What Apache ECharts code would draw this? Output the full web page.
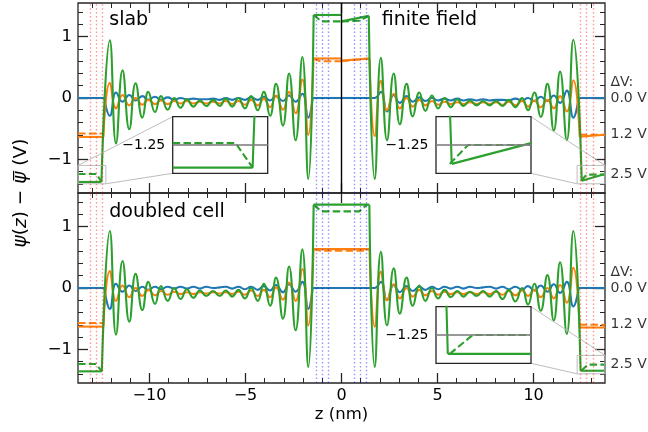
<!DOCTYPE html>
<html>
<head>
<meta charset="utf-8">
<script src="https://cdn.jsdelivr.net/npm/echarts@6/dist/echarts.min.js"></script>
<style>
  html, body { margin: 0; padding: 0; background: #fff; }
  #chart { width: 648px; height: 432px; }
</style>
</head>
<body>
<div id="chart"></div>
<script>
// Electrostatic potential profiles across the electrode / electrolyte cell
const FONT = 'DejaVu Sans';
const Z_MIN = -13.72, Z_MAX = 13.72;
const V_MIN = -1.55, V_MAX = 1.55;

const xMajor = [-10, -5, 0, 5, 10];
const xMinor = [-13, -12, -11, -9, -8, -7, -6, -4, -3, -2, -1, 1, 2, 3, 4, 6, 7, 8, 9, 11, 12, 13];
const yMajor = [-1, 0, 1];
const yMinor = [-1.4, -1.2, -0.8, -0.6, -0.4, -0.2, 0.2, 0.4, 0.6, 0.8, 1.2, 1.4];

const biasLabels = ['0.0 V', '1.2 V', '2.5 V'];
const colors = ['#1f77b4', '#ff7f0e', '#2ca02c'];

// atomic planes of the electrodes
const outerPlanes = [-13.1, -12.77, -12.45, 12.44, 12.76, 13.1];
const innerPlanes = [-1.32, -0.99, -0.67, 0.65, 0.98, 1.3];

// zoomed windows
const insetV = [-1.4, -1.1];
const insetZLeft = [-13.72, -12.27];
const insetZRight = [12.27, 13.72];
const insetMark = -1.25;

// positions of the oscillation extrema in the electrolyte
const zLeft = [-12.06, -11.74, -11.40, -11.05, -10.72, -10.37, -10.06, -9.71, -9.40, -9.05, -8.71, -8.38,
  -8.05, -7.71, -7.37, -7.04, -6.69, -6.34, -6.03, -5.69, -5.37, -5.03, -4.71, -4.36, -4.05, -3.72,
  -3.41, -3.05, -2.73, -2.39, -2.04, -1.73];
const zRight = [1.73, 2.05, 2.37, 2.72, 3.04, 3.39, 3.71, 4.05, 4.37, 4.71, 5.03, 5.37, 5.69, 6.03,
  6.35, 6.69, 7.04, 7.37, 7.71, 8.05, 8.38, 8.71, 9.05, 9.40, 9.71, 10.04, 10.37, 10.72, 11.05, 11.38,
  11.73, 12.07];

// slab (upper panel, z < 0)
const slabBlue = [-0.29, 0.09, -0.06, 0.05, -0.04, 0.03, -0.03, 0.02, -0.03, 0.01, -0.03, 0.00, -0.02,
  -0.01, -0.02, -0.02, -0.01, -0.03, 0.00, -0.03, 0.00, -0.03, 0.01, -0.03, 0.02, -0.04, 0.03, -0.05,
  0.04, -0.06, 0.07, -0.32];
const slabOrange = [0.25, -0.17, 0.05, -0.12, 0.00, -0.11, -0.03, -0.10, -0.04, -0.10, -0.05, -0.09,
  -0.05, -0.09, -0.06, -0.09, -0.06, -0.09, -0.05, -0.10, -0.05, -0.11, -0.03, -0.12, -0.01, -0.15,
  0.04, -0.19, 0.10, -0.25, 0.30, -0.60];
const slabGreen = [0.94, -0.74, 0.45, -0.51, 0.24, -0.32, 0.10, -0.23, 0.03, -0.19, 0.00, -0.16, -0.02,
  -0.14, -0.04, -0.13, -0.03, -0.13, -0.01, -0.14, 0.00, -0.17, 0.03, -0.20, 0.10, -0.29, 0.23, -0.45,
  0.40, -0.69, 0.67, -1.32];

// finite field (upper panel, z > 0)
const ffBlue = [0.00, 0.10, -0.22, 0.05, -0.08, 0.03, -0.06, 0.01, -0.05, 0.00, -0.04, -0.01, -0.04,
  -0.01, -0.04, -0.02, -0.04, -0.02, -0.04, -0.03, -0.03, -0.04, -0.01, -0.04, 0.00, -0.05, 0.02, -0.05,
  0.04, -0.08, 0.12, -0.32];
const ffOrange = [-0.62, 0.28, -0.20, 0.07, -0.17, 0.00, -0.14, -0.03, -0.12, -0.05, -0.11, -0.06,
  -0.10, -0.07, -0.10, -0.07, -0.10, -0.07, -0.10, -0.07, -0.11, -0.06, -0.12, -0.05, -0.14, -0.04,
  -0.15, -0.03, -0.17, 0.03, -0.22, 0.29];
const ffGreen = [-1.32, 0.655, -0.69, 0.40, -0.43, 0.23, -0.30, 0.09, -0.21, 0.04, -0.17, 0.00, -0.15,
  -0.02, -0.13, -0.04, -0.12, -0.05, -0.12, -0.05, -0.13, -0.03, -0.15, 0.00, -0.20, 0.09, -0.31, 0.23,
  -0.53, 0.43, -0.69, 0.95];

// doubled cell (lower panel)
const dcBlueL = [-0.34, 0.07, -0.06, 0.04, -0.05, 0.02, -0.03, 0.02, -0.02, 0.02, -0.01, 0.02, -0.01,
  0.02, -0.01, 0.02, 0.00, 0.01, 0.02, -0.01, 0.02, -0.02, 0.02, -0.03, 0.03, -0.04, 0.05, -0.07, 0.06,
  -0.06, 0.10, -0.34];
const dcOrangeL = [0.28, -0.21, 0.04, -0.15, 0.00, -0.13, -0.03, -0.12, -0.05, -0.11, -0.06, -0.10,
  -0.07, -0.10, -0.07, -0.09, -0.07, -0.09, -0.07, -0.10, -0.06, -0.11, -0.04, -0.13, -0.03, -0.15,
  0.01, -0.19, 0.09, -0.21, 0.31, -0.61];
const dcGreenL = [0.93, -0.76, 0.44, -0.55, 0.23, -0.36, 0.10, -0.26, 0.03, -0.21, 0.00, -0.18, -0.02,
  -0.16, -0.04, -0.13, -0.05, -0.13, -0.04, -0.14, -0.03, -0.17, 0.00, -0.21, 0.07, -0.29, 0.17, -0.50,
  0.35, -0.69, 0.63, -1.29];
const dcBlueR = [0.00, 0.10, -0.20, 0.05, -0.07, 0.03, -0.05, 0.02, -0.03, 0.02, -0.02, 0.02, -0.01,
  0.02, -0.01, 0.02, 0.00, 0.01, 0.02, -0.01, 0.02, -0.02, 0.02, -0.03, 0.03, -0.04, 0.04, -0.06, 0.06,
  -0.08, 0.10, -0.30];
const dcOrangeR = [-0.63, 0.27, -0.20, 0.06, -0.17, 0.00, -0.14, -0.03, -0.12, -0.05, -0.11, -0.06,
  -0.10, -0.07, -0.10, -0.07, -0.10, -0.07, -0.10, -0.06, -0.11, -0.05, -0.12, -0.04, -0.13, -0.03,
  -0.15, 0.00, -0.17, 0.05, -0.24, 0.33];
const dcGreenR = [-1.29, 0.59, -0.61, 0.32, -0.42, 0.17, -0.29, 0.04, -0.21, 0.00, -0.17, -0.03, -0.15,
  -0.05, -0.14, -0.06, -0.13, -0.05, -0.14, -0.05, -0.18, -0.03, -0.22, 0.00, -0.27, 0.07, -0.37, 0.21,
  -0.53, 0.42, -0.75, 0.93];

// plateau levels inside the electrodes, [0.0 V, 1.2 V, 2.5 V]
const slabEdge = [0, -0.635, -1.37];
const slabCenter = [0, 0.645, 1.355];
const ffCenterFrom = [0, 0.61, 1.25];
const ffCenterTo = [0, 0.645, 1.34];
const ffEdgeFrom = [0, -0.63, -1.35];
const ffEdgeTo = [0, -0.60, -1.24];
const dcEdgeLeft = [0, -0.63, -1.36];
const dcCenter = [0, 0.635, 1.36];
const dcEdgeRight = [0, -0.645, -1.35];

// where the plateaus end
const slabEdgeZ = [-12.35, -12.40, -12.50];
const centerZ = [1.50, 1.46, 1.45];
const ffCenterZ = [1.50, 1.46, 1.42];
const ffEdgeZ = [12.35, 12.40, 12.51];
const dcEdgeZL = [-12.35, -12.40, -12.48];
const dcEdgeZR = [12.35, 12.40, 12.45];

// dashed (reference) profiles, only where they leave the solid ones
const slabDashed = [
  [[[Z_MIN, 0], [-12.35, 0]], [[-1.50, 0], [0, 0]]],
  [[[Z_MIN, -0.58], [-12.40, -0.58]], [[-1.46, 0.645], [-1.10, 0.60], [0, 0.60]]],
  [[[Z_MIN, -1.24], [-12.76, -1.24], [-12.50, -1.37]], [[-1.45, 1.355], [-1.05, 1.25], [0, 1.25]]]
];
const ffDashed = [
  [[[0, 0], [1.50, 0]], [[12.35, 0], [Z_MAX, 0]]],
  [[[0, 0.60], [1.46, 0.645]], [[12.40, -0.60], [Z_MAX, -0.60]]],
  [[[0, 1.25], [0.95, 1.26], [1.42, 1.34]], [[12.48, -1.35], [12.76, -1.25], [Z_MAX, -1.25]]]
];
const dcDashed = [
  [[[Z_MIN, 0], [-12.35, 0]], [[-1.50, 0], [1.50, 0]], [[12.35, 0], [Z_MAX, 0]]],
  [[[Z_MIN, -0.57], [-12.40, -0.57]], [[-1.46, 0.635], [-1.10, 0.61], [1.10, 0.61], [1.46, 0.635]],
   [[12.40, -0.60], [Z_MAX, -0.60]]],
  [[[Z_MIN, -1.24], [-12.78, -1.24], [-12.48, -1.36]], [[-1.45, 1.36], [-1.05, 1.25], [0.92, 1.25], [1.33, 1.36]],
   [[12.48, -1.35], [12.83, -1.25], [Z_MAX, -1.25]]]
];

const slabOsc = [slabBlue, slabOrange, slabGreen];
const ffOsc = [ffBlue, ffOrange, ffGreen];
const dcOscL = [dcBlueL, dcOrangeL, dcGreenL];
const dcOscR = [dcBlueR, dcOrangeR, dcGreenR];

const zip = (zs, vs) => zs.map((z, i) => [z, vs[i]]);

function slabSolid(k) {
  const e = slabEdge[k], c = slabCenter[k], ze = slabEdgeZ[k], zc = -centerZ[k];
  return [
    { pts: [[Z_MIN, e], [ze, e]], smooth: false },
    { pts: [[ze, e]].concat(zip(zLeft, slabOsc[k]), [[zc, c]]), smooth: true },
    { pts: [[zc, c], [0, c]], smooth: false }
  ];
}
function ffSolid(k) {
  const zc = ffCenterZ[k], ze = ffEdgeZ[k];
  return [
    { pts: [[0, ffCenterFrom[k]], [zc, ffCenterTo[k]]], smooth: false },
    { pts: [[zc, ffCenterTo[k]]].concat(zip(zRight, ffOsc[k]), [[ze, ffEdgeFrom[k]]]), smooth: true },
    { pts: [[ze, ffEdgeFrom[k]], [Z_MAX, ffEdgeTo[k]]], smooth: false }
  ];
}
function dcSolid(k) {
  const e1 = dcEdgeLeft[k], c = dcCenter[k], e2 = dcEdgeRight[k];
  return [
    { pts: [[Z_MIN, e1], [dcEdgeZL[k], e1]], smooth: false },
    { pts: [[dcEdgeZL[k], e1]].concat(zip(zLeft, dcOscL[k]), [[-centerZ[k], c]]), smooth: true },
    { pts: [[-centerZ[k], c], [centerZ[k], c]], smooth: false },
    { pts: [[centerZ[k], c]].concat(zip(zRight, dcOscR[k]), [[dcEdgeZR[k], e2]]), smooth: true },
    { pts: [[dcEdgeZR[k], e2], [Z_MAX, e2]], smooth: false }
  ];
}

function curve(pts, k, dashed, smooth, xi, z, width) {
  return {
    type: 'line', xAxisIndex: xi, yAxisIndex: xi, data: pts, z: z,
    smooth: smooth ? 0.5 : false, showSymbol: false, symbol: 'none', silent: true,
    lineStyle: { color: colors[k], width: width, type: dashed ? [7.5, 3.3] : 'solid', cap: 'butt', join: 'round' }
  };
}
function profiles(solidFn, dashed, xi, z, width, only) {
  const out = [];
  for (let k = 0; k < 3; k++) {
    if (only !== undefined && k !== only) continue;
    solidFn(k).forEach(p => out.push(curve(p.pts, k, false, p.smooth, xi, z, width)));
    dashed[k].forEach(pts => out.push(curve(pts, k, true, false, xi, z, width)));
  }
  return out;
}
function guides(xi, range, withZero, z) {
  const inR = x => x > range[0] && x < range[1];
  const data = [];
  outerPlanes.filter(inR).forEach(x => data.push({ xAxis: x, lineStyle: { color: 'rgba(255,0,0,0.42)', type: [1.5, 2.4], width: 1.4 } }));
  innerPlanes.filter(inR).forEach(x => data.push({ xAxis: x, lineStyle: { color: 'rgba(0,0,255,0.42)', type: [1.5, 2.4], width: 1.4 } }));
  if (withZero) data.push({ xAxis: 0, lineStyle: { color: '#000', type: 'solid', width: 1.4 } });
  return {
    type: 'line', xAxisIndex: xi, yAxisIndex: xi, data: [[range[0], 0]], z: z, silent: true,
    showSymbol: false, symbol: 'none', lineStyle: { opacity: 0 },
    markLine: { silent: true, symbol: ['none', 'none'], label: { show: false }, animation: false, data: data }
  };
}
function zoomFrame(xi, zr) {
  return {
    type: 'line', xAxisIndex: xi, yAxisIndex: xi, z: 3, silent: true, showSymbol: false, symbol: 'none',
    data: [[zr[0], insetV[0]], [zr[1], insetV[0]], [zr[1], insetV[1]], [zr[0], insetV[1]], [zr[0], insetV[0]]],
    lineStyle: { color: '#bdbdbd', width: 1 }
  };
}
function biasTags(xi, dashed) {
  const ends = dashed.map(pieces => { const last = pieces[pieces.length - 1]; return last[last.length - 1][1]; });
  const data = [{ value: [Z_MAX, ends[0]], label: { formatter: '\u0394V:', offset: [0, -16] } }]
    .concat(biasLabels.map((t, k) => ({ value: [Z_MAX, ends[k]], label: { formatter: t } })));
  return {
    type: 'scatter', xAxisIndex: xi, yAxisIndex: xi, symbolSize: 1, clip: false, silent: true, z: 5,
    itemStyle: { color: 'rgba(0,0,0,0)' }, data: data,
    label: { show: true, position: 'right', distance: 5, fontSize: 14, fontFamily: FONT, color: '#000' }
  };
}

const numFmt = v => (v < 0 ? '\u2212' : '') + Math.abs(v);
const tickLine = w => ({ color: '#262626', width: w });
const noLine = { show: false, onZero: false };

function xAxes(g, labels) {
  const base = { type: 'value', gridIndex: g, min: Z_MIN, max: Z_MAX, axisLine: noLine, splitLine: { show: false } };
  return [
    Object.assign({}, base, { position: 'bottom',
      axisTick: { show: true, inside: true, length: 10, customValues: xMajor, lineStyle: tickLine(1.3) },
      axisLabel: { show: labels, customValues: xMajor, formatter: numFmt, margin: 5, fontSize: 16, fontFamily: FONT, color: '#000' } }),
    Object.assign({}, base, { position: 'bottom',
      axisTick: { show: true, inside: true, length: 5, customValues: xMinor, lineStyle: tickLine(1) }, axisLabel: { show: false } }),
    Object.assign({}, base, { position: 'top',
      axisTick: { show: true, inside: true, length: 10, customValues: xMajor, lineStyle: tickLine(1.3) }, axisLabel: { show: false } }),
    Object.assign({}, base, { position: 'top',
      axisTick: { show: true, inside: true, length: 5, customValues: xMinor, lineStyle: tickLine(1) }, axisLabel: { show: false } })
  ];
}
function yAxes(g) {
  const base = { type: 'value', gridIndex: g, min: V_MIN, max: V_MAX, axisLine: noLine, splitLine: { show: false } };
  return [
    Object.assign({}, base, { position: 'left',
      axisTick: { show: true, inside: true, length: 10, customValues: yMajor, lineStyle: tickLine(1.3) },
      axisLabel: { show: true, customValues: yMajor, formatter: numFmt, margin: 6, fontSize: 16.5, fontFamily: FONT, color: '#000' } }),
    Object.assign({}, base, { position: 'left',
      axisTick: { show: true, inside: true, length: 5, customValues: yMinor, lineStyle: tickLine(1) }, axisLabel: { show: false } }),
    Object.assign({}, base, { position: 'right',
      axisTick: { show: true, inside: true, length: 10, customValues: yMajor, lineStyle: tickLine(1.3) }, axisLabel: { show: false } }),
    Object.assign({}, base, { position: 'right',
      axisTick: { show: true, inside: true, length: 5, customValues: yMinor, lineStyle: tickLine(1) }, axisLabel: { show: false } })
  ];
}

// layout
const panelFrame = { show: true, backgroundColor: 'rgba(0,0,0,0)', borderColor: '#262626', borderWidth: 1.3 };
const insetBoxes = [
  { left: 172.7, top: 116.7, width: 95, height: 56.6 },
  { left: 436, top: 116.7, width: 95, height: 56.6 },
  { left: 436, top: 306.7, width: 95, height: 56.6 }
];
const insetRanges = [insetZLeft, insetZRight, insetZRight];

const grids = [
  Object.assign({ left: 78, top: 3, width: 527, height: 190 }, panelFrame),
  Object.assign({ left: 78, top: 193, width: 527, height: 190 }, panelFrame)
].concat(insetBoxes.map(b => Object.assign({}, b, {
  show: true, backgroundColor: '#fff', borderColor: '#262626', borderWidth: 1.3, z: 10
})));

const xAxisList = xAxes(0, false).concat(xAxes(1, true),
  insetRanges.map((r, i) => ({ type: 'value', gridIndex: 2 + i, min: r[0], max: r[1], show: false, axisLine: noLine })));
const yAxisList = yAxes(0).concat(yAxes(1),
  insetRanges.map((r, i) => ({
    type: 'value', gridIndex: 2 + i, min: insetV[0], max: insetV[1], z: 12,
    axisLine: noLine, axisTick: { show: false }, splitLine: { show: false },
    axisLabel: { show: true, customValues: [insetMark], formatter: numFmt, margin: 7.5, fontSize: 14, fontFamily: FONT, color: '#000' }
  })));

// main panels: x/y axis 0 -> upper grid, 4 -> lower grid; insets 8, 9, 10
const LW = 2.1;
const series = [];
series.push(guides(0, [Z_MIN, Z_MAX], true, 2));
series.push(...profiles(slabSolid, slabDashed, 0, 2, LW));
series.push(...profiles(ffSolid, ffDashed, 0, 2, LW));
series.push(guides(4, [Z_MIN, Z_MAX], false, 2));
series.push(...profiles(dcSolid, dcDashed, 4, 2, LW));
series.push(zoomFrame(0, insetZLeft), zoomFrame(0, insetZRight), zoomFrame(4, insetZRight));
series.push(biasTags(0, ffDashed), biasTags(4, dcDashed));

const insetSources = [[slabSolid, slabDashed], [ffSolid, ffDashed], [dcSolid, dcDashed]];
insetSources.forEach((src, i) => {
  const xi = 8 + i;
  series.push(guides(xi, insetRanges[i], false, 12));
  series.push(...profiles(src[0], src[1], xi, 12, LW, 2));
  series.push({
    type: 'line', xAxisIndex: xi, yAxisIndex: xi, z: 13, silent: true, showSymbol: false, symbol: 'none',
    data: [[insetRanges[i][0], insetMark], [insetRanges[i][1], insetMark]],
    lineStyle: { color: '#7f7f7f', width: 2, opacity: 0.8 }
  });
});

const chart = echarts.init(document.getElementById('chart'), null, { renderer: 'canvas' });
chart.setOption({
  animation: false,
  backgroundColor: '#fff',
  grid: grids,
  xAxis: xAxisList,
  yAxis: yAxisList,
  series: series
});

// connectors between the zoom frames and their insets
const px = (xi, pt) => chart.convertToPixel({ xAxisIndex: xi, yAxisIndex: xi }, pt);
function connector(a, b) {
  return { type: 'line', z: 4, silent: true, shape: { x1: a[0], y1: a[1], x2: b[0], y2: b[1] },
    style: { stroke: '#bdbdbd', lineWidth: 1 } };
}
const b0 = insetBoxes[0], b1 = insetBoxes[1], b2 = insetBoxes[2];
const links = [
  connector(px(0, [insetZLeft[0], insetV[1]]), [b0.left, b0.top]),
  connector(px(0, [insetZLeft[1], insetV[0]]), [b0.left, b0.top + b0.height]),
  connector(px(0, [insetZRight[1], insetV[1]]), [b1.left + b1.width, b1.top]),
  connector(px(0, [insetZRight[0], insetV[0]]), [b1.left + b1.width, b1.top + b1.height]),
  connector(px(4, [insetZRight[1], insetV[1]]), [b2.left + b2.width, b2.top]),
  connector(px(4, [insetZRight[0], insetV[0]]), [b2.left + b2.width, b2.top + b2.height])
];

function label(text, x, y, size, align) {
  return { type: 'text', x: x, y: y, z: 20, silent: true,
    style: { text: text, fontSize: size, fontFamily: FONT, fill: '#000',
      align: align, verticalAlign: 'middle', textAlign: align, textVerticalAlign: 'middle' } };
}
const texts = [
  label('slab', 109.3, 20.5, 19, 'left'),
  label('finite field', 381.7, 20.5, 19, 'left'),
  label('doubled cell', 109.3, 212.5, 19, 'left'),
  label('z (nm)', 341.5, 414.5, 16.5, 'center'),
  { type: 'text', x: 21, y: 193, rotation: Math.PI / 2, z: 20, silent: true,
    style: { text: '{i|\u03c8}({i|z}) \u2212 {i|\u03c8\u0305} (V)', fontSize: 18.5, fontFamily: FONT, fill: '#000',
      align: 'center', verticalAlign: 'middle', textAlign: 'center', textVerticalAlign: 'middle',
      rich: { i: { fontStyle: 'italic', fontSize: 18.5, fontFamily: FONT } } } }
];

chart.setOption({ graphic: { elements: links.concat(texts) } });
</script>
</body>
</html>
